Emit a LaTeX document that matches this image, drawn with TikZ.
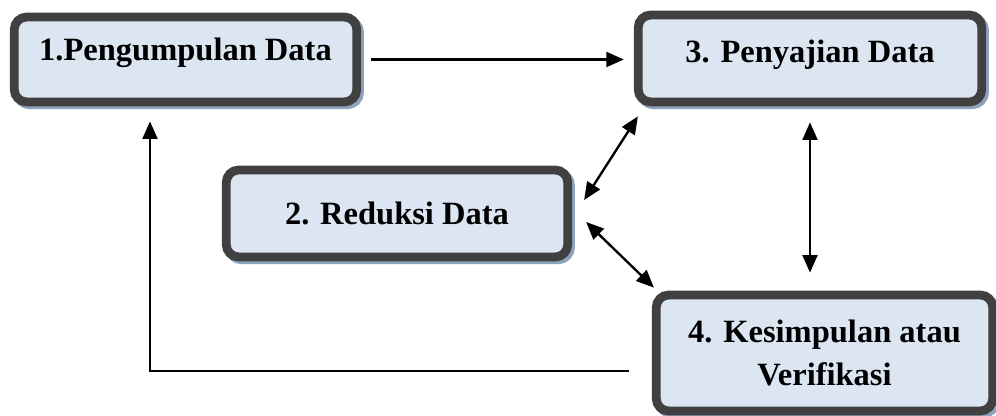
\documentclass[tikz,border=0pt]{standalone}
\usepackage{fontspec}
\setmainfont{Liberation Serif}
\usetikzlibrary{shadows,arrows.meta}
\definecolor{isiKotak}{HTML}{DCE6F2}
\definecolor{garisKotak}{HTML}{404040}
\definecolor{bayangan}{HTML}{8FA3BF}
\tikzset{
	kotak/.style={rectangle, rounded corners=0.25cm, draw=garisKotak, 
		line width=5pt, fill=isiKotak, font=\bfseries\fontsize{18.5}{24.5}\selectfont, 
		align=center, text centered,
		drop shadow={shadow xshift=1.6pt, shadow yshift=-1.6pt, draw=bayangan, 
			line width=5pt, fill=bayangan, opacity=1}},
	panah/.style={line width=1.35pt, -{Triangle[length=10pt,width=8.5pt]}},
	panah2/.style={line width=1.35pt, 
		{Triangle[length=10pt,width=8.5pt]}-{Triangle[length=10pt,width=8.5pt]}}
}

\begin{document}
\begin{tikzpicture}
			\clip (0,0) rectangle (19.92,-8.32);
			
			\node[kotak, minimum width=6.85cm, minimum height=1.7cm, text height=14pt, text depth=12.8pt] (kumpul) at (3.71,-1.19) {1.Pengumpulan Data};
			\node[kotak, minimum width=6.83cm, minimum height=1.74cm] (reduksi) at (7.94,-4.27) {2. Reduksi Data};
			\node[kotak, minimum width=6.87cm, minimum height=1.74cm, text height=14pt, text depth=9.4pt] (sajian) at (16.2,-1.17) {3. Penyajian Data};
			\node[kotak, minimum width=6.73cm, minimum height=2.32cm] (simpul) at (16.49,-7.06) {4. Kesimpulan atau\\Verifikasi};
			
			\draw[panah] ([xshift=0.2cm]kumpul.east) -- ([xshift=-0.2cm]kumpul.east -| sajian.west);
			\draw[panah2] ([shift={(0.24,0.27)}]reduksi.east) -- ([shift={(0.08,-0.2)}]sajian.south west);
			\draw[panah2] ([shift={(0.28,-0.17)}]reduksi.east) -- ([shift={(0.04,0.06)}]simpul.north west);
			\draw[panah2] ([yshift=-0.32cm]sajian.south) -- ([yshift=0.36cm]sajian.south |- simpul.north);
			\draw[panah] ([shift={(-0.46,-0.36)}]simpul.west) -| ([shift={(-0.71,-0.3)}]kumpul.south);
		\end{tikzpicture}
\end{document}
